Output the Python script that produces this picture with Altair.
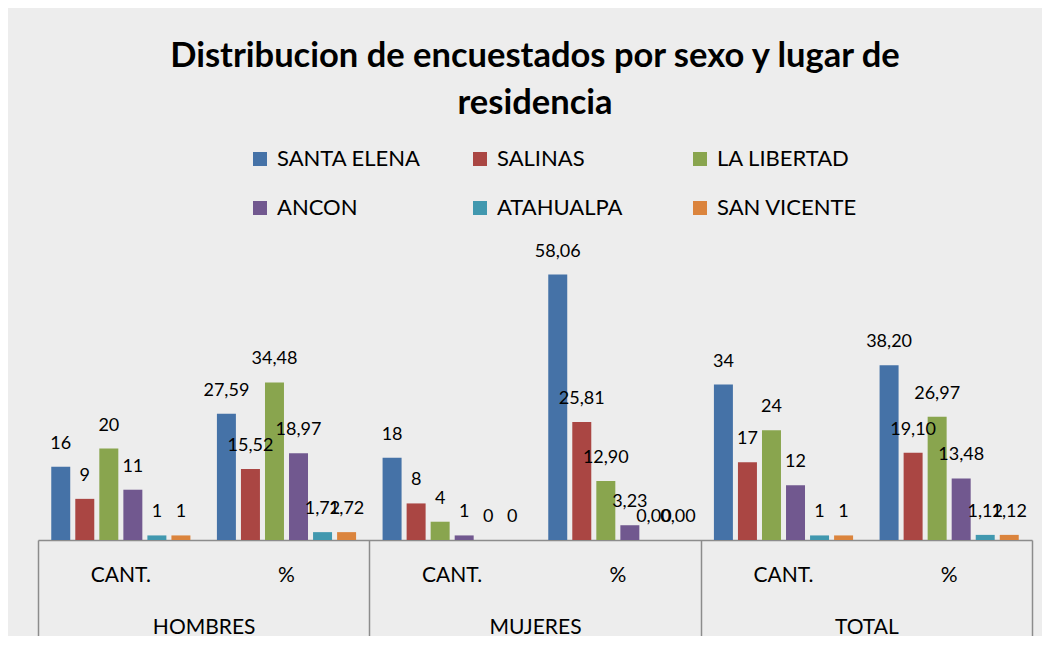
import altair as alt
import pandas as pd

grupos = ["H_CANT", "H_PCT", "M_CANT", "M_PCT", "T_CANT", "T_PCT"]
grupo_etiquetas = ["CANT.", "%", "CANT.", "%", "CANT.", "%"]
sexos = ["HOMBRES", "MUJERES", "TOTAL"]
series = ["SANTA ELENA", "SALINAS", "LA LIBERTAD", "ANCON", "ATAHUALPA", "SAN VICENTE"]
colores = ["#4572A7", "#AA4643", "#89A54E", "#71588F", "#4198AF", "#DB843D"]

santa_elena = [16, 27.59, 18, 58.06, 34, 38.20]
salinas = [9, 15.52, 8, 25.81, 17, 19.10]
la_libertad = [20, 34.48, 4, 12.90, 24, 26.97]
ancon = [11, 18.97, 1, 3.23, 12, 13.48]
atahualpa = [1, 1.72, 0, 0.00, 1, 1.12]
san_vicente = [1, 1.72, 0, 0.00, 1, 1.12]

valores = [santa_elena, salinas, la_libertad, ancon, atahualpa, san_vicente]

rows = []
for s, vals in zip(series, valores):
    for g, v in zip(grupos, vals):
        if g.endswith("CANT"):
            lab = f"{int(round(v))}"
        else:
            lab = f"{v:.2f}".replace(".", ",")
        rows.append({"grupo": g, "serie": s, "valor": v, "etiqueta": lab})
df = pd.DataFrame(rows)
df_sexo = pd.DataFrame({"sexo": sexos})

FONT = "Lato"
GRAY = "#8c8c8c"

label_expr = " : ".join(
    [f"datum.value == '{g}' ? '{l}'" for g, l in zip(grupos, grupo_etiquetas)]
) + " : ''"

x_enc = alt.X(
    "grupo:N",
    sort=grupos,
    scale=alt.Scale(domain=grupos, paddingInner=0.131, paddingOuter=0.0655),
    axis=alt.Axis(
        orient="bottom", title=None, ticks=False, domain=False,
        labelExpr=label_expr, labelFontSize=21, labelFont=FONT,
        labelColor="#000000", labelPadding=35, labelBaseline="middle",
        labelAngle=0,
    ),
)
xo_enc = alt.XOffset("serie:N", sort=series,
                     scale=alt.Scale(domain=series, paddingInner=0.21, paddingOuter=0.1))
y_enc = alt.Y("valor:Q", scale=alt.Scale(domain=[0, 70], nice=False), axis=None)

bars = alt.Chart(df).mark_bar().encode(
    x=x_enc,
    xOffset=xo_enc,
    y=y_enc,
    color=alt.Color(
        "serie:N", sort=series,
        scale=alt.Scale(domain=series, range=colores),
        legend=alt.Legend(
            orient="none", legendX=211, legendY=-72, columns=3,
            direction="horizontal",
            title=None, symbolType="square", symbolSize=196,
            symbolStrokeWidth=0, labelFontSize=22, labelFont=FONT,
            labelColor="#000000", columnPadding=48, rowPadding=27,
            gridAlign="all", padding=0, labelOffset=6, labelLimit=300,
        ),
    ),
)

texts = alt.Chart(df).mark_text(
    baseline="alphabetic", dy=-18, fontSize=18, font=FONT, color="#000000"
).encode(
    x=alt.X("grupo:N", sort=grupos),
    xOffset=alt.XOffset("serie:N", sort=series),
    y="valor:Q",
    text="etiqueta:N",
)

capa_a = alt.layer(bars, texts)

capa_b = alt.Chart(df_sexo).mark_point(opacity=0).encode(
    x=alt.X(
        "sexo:N", sort=sexos,
        scale=alt.Scale(domain=sexos, paddingInner=0, paddingOuter=0),
        axis=alt.Axis(
            orient="bottom", title=None, tickBand="extent", tickSize=96,
            tickColor=GRAY, tickWidth=1.5, domainColor=GRAY, domainWidth=1.5,
            labelFontSize=21, labelFont=FONT, labelColor="#000000",
            labelPadding=-9, labelBaseline="middle", labelAngle=0,
        ),
    ),
    y=alt.value(0),
)

chart = alt.layer(capa_a, capa_b).resolve_scale(x="independent").properties(
    width=994,
    height=320,
    title=alt.Title(
        ["Distribucion de encuestados por sexo y lugar de", "residencia"],
        font=FONT, fontSize=34.5, fontWeight="bold", color="#000000",
        anchor="middle", lineHeight=47, offset=27,
    ),
    autosize=alt.AutoSizeParams(type="none"),
    padding={"left": 30, "top": 212, "right": 10, "bottom": 96},
    background="#ededed",
).configure_view(stroke=None)

chart.save("out.html", embed_options={"renderer": "svg", "actions": False})
